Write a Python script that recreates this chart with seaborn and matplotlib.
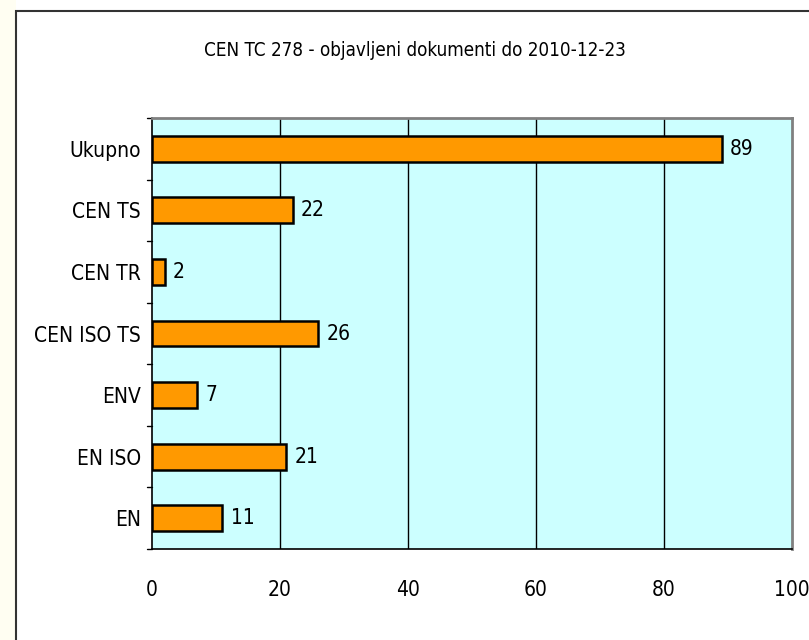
import numpy as np
import pandas as pd
import matplotlib
matplotlib.use('Agg')
import matplotlib.pyplot as plt
import seaborn as sns
from matplotlib.patches import Rectangle

# Chart data
categories = ['Ukupno', 'CEN TS', 'CEN TR', 'CEN ISO TS', 'ENV', 'EN ISO', 'EN']
counts = [89, 22, 2, 26, 7, 21, 11]
title = 'CEN TC 278 - objavljeni dokumenti do 2010-12-23'

df = pd.DataFrame({'kategorija': categories, 'broj': counts})

sns.set_theme(style='white')
plt.rcParams['font.family'] = ['DejaVu Sans']
plt.rcParams['font.stretch'] = 'condensed'
plt.rcParams['text.color'] = 'black'
plt.rcParams['xtick.color'] = 'black'
plt.rcParams['ytick.color'] = 'black'

fig = plt.figure(figsize=(8.09, 6.4), dpi=100)
fig.patch.set_facecolor('white')

# slide background on the left and the chart frame
fig.patches.append(Rectangle((0, 0), 16 / 809, 1, transform=fig.transFigure,
                             facecolor='#fffef2', edgecolor='none', zorder=0))
fig.patches.append(Rectangle((16 / 809, -0.1), 1.1, 1 - 11 / 640 + 0.1,
                             transform=fig.transFigure, facecolor='none',
                             edgecolor='#333333', linewidth=1.5, zorder=5))

ax = fig.add_axes([152 / 809, 1 - 549 / 640, 640 / 809, 431 / 640])
ax.set_facecolor('#ccffff')

sns.barplot(data=df, y='kategorija', x='broj', orient='h', color='#ff9900',
            edgecolor='black', linewidth=1.8, width=0.42, saturation=1, ax=ax)

ax.set_xlim(0, 100)
ax.set_ylim(len(categories) - 0.5, -0.5)
ax.set_xticks(np.arange(0, 101, 20))
ax.set_xticklabels([str(v) for v in range(0, 101, 20)], fontsize=15)
ax.tick_params(axis='x', direction='out', length=6, width=1, color='black', pad=16)
ax.tick_params(axis='y', length=0, pad=8, labelsize=15)
ax.set_xlabel('')
ax.set_ylabel('')

# tick marks between the categories
for b in np.arange(-0.5, len(categories), 1):
    ax.plot([-0.008, 0], [b, b], transform=ax.get_yaxis_transform(),
            color='black', lw=1, clip_on=False)

for v in [20, 40, 60, 80]:
    ax.axvline(v, color='black', lw=1, zorder=0.5)

for i, v in enumerate(counts):
    ax.text(v + 1.3, i, str(v), va='center', ha='left', fontsize=15)

for s in ['top', 'right']:
    ax.spines[s].set_color('#808080')
    ax.spines[s].set_linewidth(2)
for s in ['left', 'bottom']:
    ax.spines[s].set_color('black')
    ax.spines[s].set_linewidth(1.2)

fig.text(415 / 809, 1 - 50 / 640, title, ha='center', va='center', fontsize=13.5)

fig.savefig('out.png', dpi=100)
